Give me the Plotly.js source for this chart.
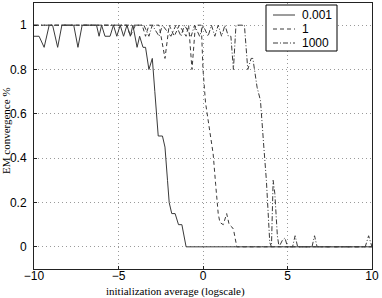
<!DOCTYPE html>
<html>
<head>
<meta charset="utf-8">
<script src="https://cdn.plot.ly/plotly-3.0.1.min.js"></script>
<style>html,body{margin:0;padding:0;background:#fff;}#chart{width:382px;height:298px;}</style>
</head>
<body>
<div id="chart"></div>
<script>
// Series names (legend labels)
const seriesNames = ["0.001", "1", "1000"];

// Series "0.001" (solid)
const solX = [-10,-9.7,-9.4,-9.1,-8.9,-8.6,-8.35,-7.65,-7.4,-7.15,-6.3,-6.15,-6.0,-5.8,-5.5,-5.3,-5.1,-4.9,-4.7,-4.5,-4.3,-4.15,-3.9,-3.75,-3.55,-3.4,-3.2,-3.0,-2.85,-2.65,-2.4,-2.25,-2.1,-2.0,-1.85,-1.65,-1.45,-1.25,-1.0,10];
const solY = [0.95,0.95,0.9,1,1,0.9,1,1,0.9,1,1,0.95,1,0.95,0.95,1,0.95,1,0.95,1,0.95,1,0.9,0.95,0.9,0.9,0.8,0.85,0.7,0.5,0.5,0.45,0.3,0.2,0.15,0.15,0.1,0.1,0,0];

// Series "1" (dashed)
const dshX = [-10,-4.5,-4.3,-4.0,-3.6,-3.4,-3.2,-2.6,-2.25,-2.0,-1.7,-1.4,-1.0,-0.85,-0.65,-0.45,-0.1,0.0,0.15,0.45,0.6,0.75,0.9,1.0,1.2,1.4,1.55,1.7,1.8,2.0,10];
const dshY = [1,1,0.95,1,1,0.95,1,1,0.85,1,0.95,1,0.95,1,0.8,1,1,0.8,0.65,0.5,0.42,0.28,0.15,0.11,0.1,0.15,0.1,0.09,0.08,0,0];

// Series "1000" (dash-dot)
const ddX = [-10,-3.5,-3.2,-3.0,-2.6,-2.4,-1.9,-1.6,-1.3,-1.1,-0.7,-0.5,-0.2,0.0,0.3,0.5,0.7,0.9,1.1,1.3,1.5,1.65,1.8,1.95,2.45,2.65,2.85,2.95,3.2,3.4,3.6,3.75,3.95,4.05,4.15,4.25,4.4,4.5,4.7,4.85,5.0,5.3,5.45,5.6,6.45,6.6,6.75,9.6,9.8,10];
const ddY = [1,1,0.95,1,0.95,1,0.95,1,0.95,1,0.95,1,0.95,1,0.95,1,0.95,1,0.95,1,0.95,0.95,0.8,1,1,0.8,0.85,0.85,0.72,0.66,0.45,0.3,0.02,0,0.3,0.24,0.05,0,0.03,0.04,0,0,0.05,0,0,0.05,0,0,0.05,0];

// Axis ticks
const xTicks = [-10, -5, 0, 5, 10];
const yTicks = [0, 0.2, 0.4, 0.6, 0.8, 1];

const lineCol = '#3a3a3a';
const dashes = ['solid', '4px,3px', '5px,2px,1px,2px'];
const traces = [
  {x: solX, y: solY, name: seriesNames[0], mode: 'lines', line: {color: lineCol, width: 1, dash: dashes[0]}},
  {x: dshX, y: dshY, name: seriesNames[1], mode: 'lines', line: {color: lineCol, width: 1, dash: dashes[1]}},
  {x: ddX, y: ddY, name: seriesNames[2], mode: 'lines', line: {color: lineCol, width: 1, dash: dashes[2]}}
];

const axisCommon = {
  showline: true, mirror: true, linecolor: '#222', linewidth: 1,
  showgrid: true, gridcolor: '#9a9a9a', griddash: '1px,3px', gridwidth: 1,
  zeroline: false, ticks: 'inside', ticklen: 3, tickcolor: '#222',
  tickfont: {family: 'Liberation Sans, Arial, sans-serif', size: 12, color: '#000'}
};

// Legend drawn in plot-paper fractions (box + samples + labels)
const PLOT_L = 34, PLOT_R = 372, PLOT_T = 3, PLOT_B = 269;
const px2x = p => (p - PLOT_L) / (PLOT_R - PLOT_L);
const px2y = p => (PLOT_B - p) / (PLOT_B - PLOT_T);
const legRowsPx = [15, 29, 43];
const shapes = [
  {type: 'rect', xref: 'paper', yref: 'paper', x0: px2x(266), x1: px2x(337), y0: px2y(51), y1: px2y(5),
   line: {color: '#000', width: 1}, fillcolor: '#fff', layer: 'above'}
];
const annotations = [
  {text: 'initialization average (logscale)', xref: 'paper', yref: 'paper', x: 0.42, y: px2y(291),
   xanchor: 'center', yanchor: 'middle', showarrow: false,
   font: {family: 'Liberation Serif, Times New Roman, serif', size: 11, color: '#000'}},
  {text: 'EM convergence %', xref: 'paper', yref: 'paper', x: px2x(6), y: px2y(131), textangle: -90,
   xanchor: 'center', yanchor: 'middle', showarrow: false,
   font: {family: 'Liberation Serif, Times New Roman, serif', size: 11, color: '#000'}}
];
seriesNames.forEach((nm, i) => {
  shapes.push({type: 'line', xref: 'paper', yref: 'paper', x0: px2x(273), x1: px2x(295),
    y0: px2y(legRowsPx[i]), y1: px2y(legRowsPx[i]), line: {color: lineCol, width: 1, dash: dashes[i]}, layer: 'above'});
  annotations.push({text: nm, xref: 'paper', yref: 'paper', x: px2x(300), y: px2y(legRowsPx[i]),
    xanchor: 'left', yanchor: 'middle', showarrow: false,
    font: {family: 'Liberation Sans, Arial, sans-serif', size: 12, color: '#000'}});
});

const layout = {
  width: 382, height: 298,
  margin: {l: PLOT_L, r: 382 - PLOT_R, t: PLOT_T, b: 298 - PLOT_B, pad: 0},
  paper_bgcolor: '#fff', plot_bgcolor: '#fff',
  showlegend: false,
  xaxis: Object.assign({}, axisCommon, {range: [-10, 10], tickvals: xTicks, ticklabelstandoff: -4,
    ticktext: xTicks.map(v => v < 0 ? '\u2212' + Math.abs(v) : String(v))}),
  yaxis: Object.assign({}, axisCommon, {range: [-0.1, 1.1], tickvals: yTicks, ticklabelstandoff: 4,
    ticktext: yTicks.map(v => String(v))}),
  shapes: shapes,
  annotations: annotations
};

Plotly.newPlot('chart', traces, layout, {staticPlot: true, displayModeBar: false});
</script>
</body>
</html>
